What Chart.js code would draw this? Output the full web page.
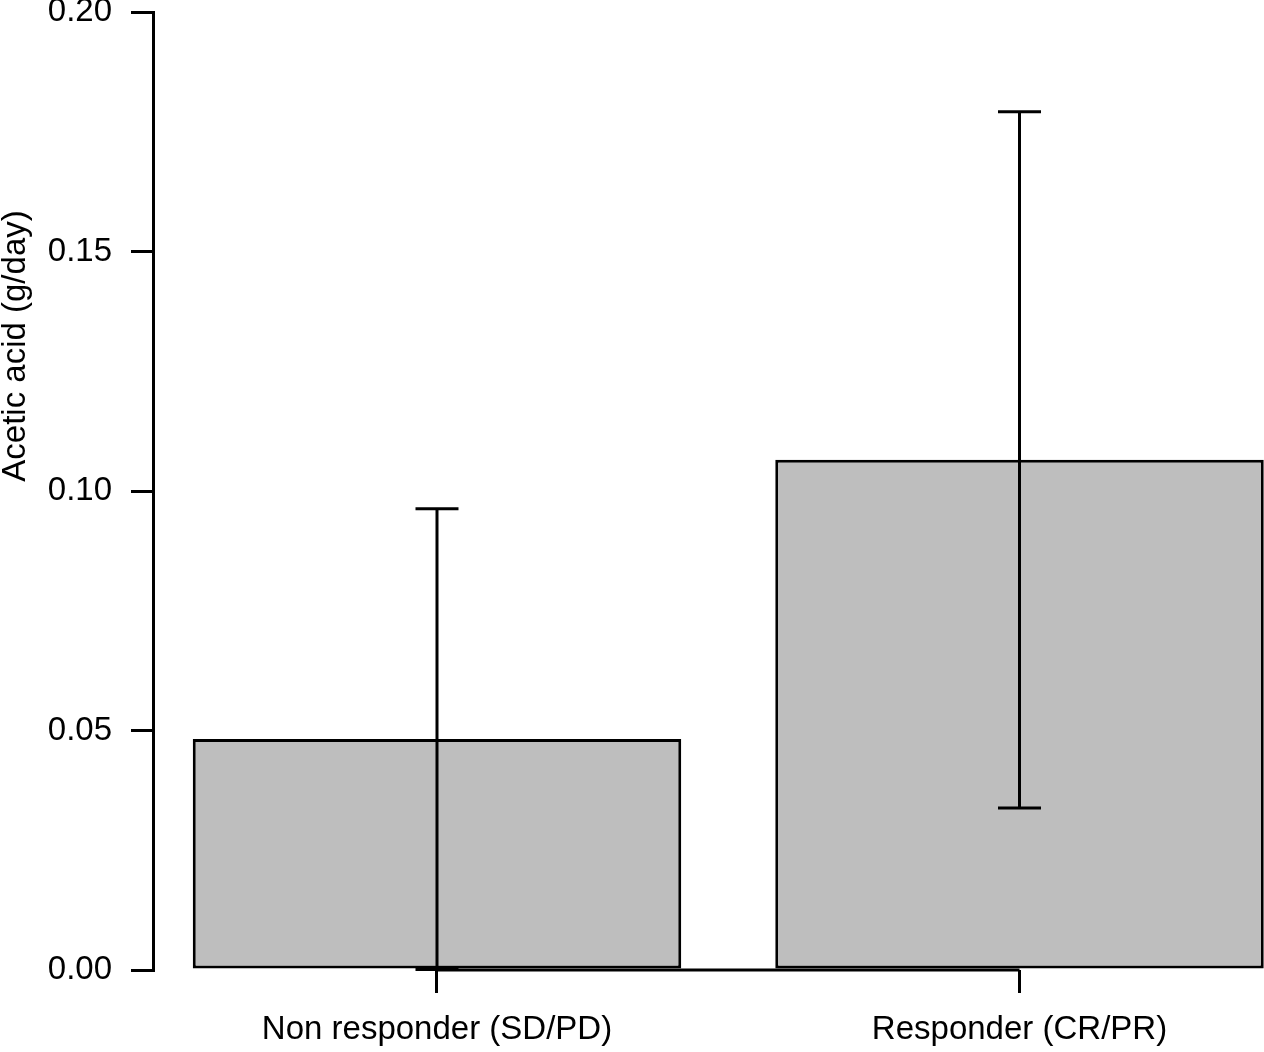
<!DOCTYPE html>
<html>
<head>
<meta charset="utf-8">
<script src="https://cdn.jsdelivr.net/npm/chart.js@4/dist/chart.umd.min.js"></script>
<style>
  body { margin: 0; background: #fff; }
</style>
</head>
<body>
<canvas id="bar-chart" width="1264" height="1052"></canvas>
<script>
var groups = ["Non responder (SD/PD)", "Responder (CR/PR)"];
var means = [0.0482, 0.1065];
var errors = [0.0481, 0.0727];
var yTicks = [0, 0.05, 0.10, 0.15, 0.20];
var yTitle = "Acetic acid (g/day)";

// R barplot layout: bar width 1, space 0.2
function barPos(i) { return 0.7 + 1.2 * i; }

Chart.defaults.color = "#000";
Chart.defaults.font.family = '"Liberation Sans", Arial, sans-serif';
Chart.defaults.font.size = 33;

var errorBars = {
  id: "errorBars",
  afterDraw: function(chart) {
    var c = chart.ctx, xs = chart.scales.x, ys = chart.scales.y;
    var bottom = chart.chartArea.bottom;
    c.save();
    c.strokeStyle = "#000";
    c.lineWidth = 3;
    // x axis line runs from first tick to last tick
    c.beginPath();
    c.moveTo(xs.getPixelForValue(barPos(0)), bottom);
    c.lineTo(xs.getPixelForValue(barPos(groups.length - 1)), bottom);
    c.stroke();
    means.forEach(function(m, i) {
      var px = xs.getPixelForValue(barPos(i));
      var top = ys.getPixelForValue(m + errors[i]);
      var low = ys.getPixelForValue(m - errors[i]);
      c.beginPath();
      c.moveTo(px, top); c.lineTo(px, low);
      c.moveTo(px - 21.5, top); c.lineTo(px + 21.5, top);
      c.moveTo(px - 21.5, low); c.lineTo(px + 21.5, low);
      c.stroke();
    });
    c.font = '33px "Liberation Sans", Arial, sans-serif';
    c.fillStyle = "#000";
    c.textAlign = "center";
    c.textBaseline = "middle";
    c.translate(16, 346);
    c.rotate(-Math.PI / 2);
    c.fillText(yTitle, 0, 0);
    c.restore();
  }
};

var ctx = document.getElementById("bar-chart");
var chart = new Chart(ctx, {
  type: "bar",
  data: {
    datasets: [{
      label: "Acetic acid",
      data: means.map(function(m, i) { return { x: barPos(i), y: m }; }),
      backgroundColor: "#bebebe",
      borderColor: "#000",
      borderWidth: 3,
      borderSkipped: false,
      categoryPercentage: 1,
      barPercentage: 0.8386
    }]
  },
  options: {
    responsive: false,
    animation: false,
    layout: { padding: { top: 12, left: 0, right: 0, bottom: 0 } },
    plugins: {
      legend: { display: false },
      tooltip: { enabled: false }
    },
    scales: {
      x: {
        type: "linear",
        min: 0.11494,
        max: 2.40368,
        offset: false,
        afterBuildTicks: function(scale) {
          scale.ticks = groups.map(function(g, i) { return { value: barPos(i) }; });
        },
        afterFit: function(scale) {
          scale.height = 82;
          scale.paddingLeft = 0;
          scale.paddingRight = 0;
        },
        ticks: {
          autoSkip: false,
          maxRotation: 0,
          padding: 17,
          font: { size: 33, lineHeight: 1.2 },
          callback: function(v, i) { return groups[i]; }
        },
        grid: {
          offset: false,
          drawOnChartArea: false,
          color: "#000",
          lineWidth: 3,
          tickLength: 23
        },
        border: { display: false }
      },
      y: {
        min: 0,
        max: 0.2,
        afterBuildTicks: function(scale) {
          scale.ticks = yTicks.map(function(v) { return { value: v }; });
        },
        afterFit: function(scale) {
          scale.width = 153;
          scale.paddingTop = 0;
          scale.paddingBottom = 0;
        },
        ticks: {
          padding: 19,
          font: { size: 33, lineHeight: 1.2 },
          callback: function(v) { return Number(v).toFixed(2); }
        },
        grid: {
          drawOnChartArea: false,
          color: "#000",
          lineWidth: 3,
          tickLength: 22
        },
        border: { color: "#000", width: 3 }
      }
    }
  },
  plugins: [errorBars]
});
</script>
</body>
</html>
